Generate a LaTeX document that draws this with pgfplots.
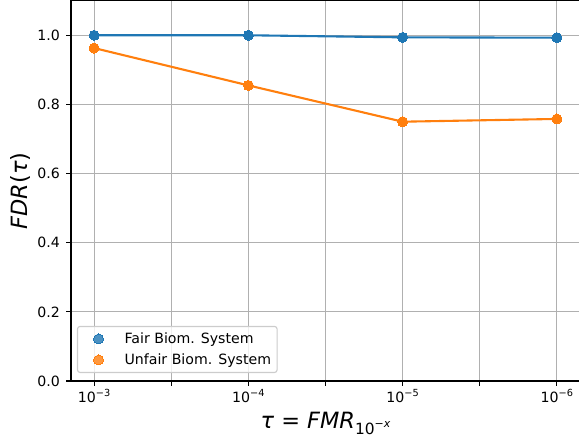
\documentclass[border=0pt]{standalone}
\usepackage{pgfplots}
\pgfplotsset{compat=1.18}
\usepackage{fontspec}
\setmainfont{DejaVu Sans}
\definecolor{tabblue}{HTML}{1F77B4}
\definecolor{taborange}{HTML}{FF7F0E}
\definecolor{gridgray}{HTML}{B0B0B0}
\definecolor{leggray}{HTML}{CCCCCC}
\newcommand{\tp}[1]{10\raisebox{0.42em}{\fontsize{9.8}{10}\selectfont −#1}}
\pgfplotstableread{
x fair unfair
0 1.000 0.963
1 1.000 0.855
2 0.994 0.750
3 0.993 0.758
}\datatab
\begin{document}
\begin{tikzpicture}
\begin{axis}[
  name=ax,
  scale only axis,
  width=509bp, height=380.3bp,
  xmin=-0.15, xmax=3.15, ymin=0, ymax=1.1,
  xtick={0,0.5,1,1.5,2,2.5,3},
  xticklabels={\tp{3},,\tp{4},,\tp{5},,\tp{6}},
  ytick={0,0.2,0.4,0.6,0.8,1.0},
  /pgf/number format/fixed, /pgf/number format/fixed zerofill, /pgf/number format/precision=1, /pgf/number format/assume math mode=true,
  tick label style={font=\fontsize{14.2}{17}\selectfont, inner sep=0pt},
  xticklabel style={anchor=base, yshift=-17bp},
  yticklabel style={anchor=east, xshift=-6bp},
  xmajorgrids, ymajorgrids,
  major grid style={draw=gridgray, line width=1.12bp},
  axis line style={line width=1.12bp, black},
  tick align=outside,
  tick pos=left,
  major tick length=4.9bp,
  every tick/.style={black, line width=1.12bp},
  xlabel={\itshape τ\upshape\ = \itshape FMR\upshape\raisebox{-0.3em}{\fontsize{15.5}{16}\selectfont 10\raisebox{0.45em}{\fontsize{11}{12}\selectfont −\itshape x}}},
  ylabel={\itshape FDR\upshape(\itshape τ\upshape)},
  label style={font=\fontsize{22.5}{27}\selectfont, inner sep=0pt},
  xlabel style={at={(axis description cs:0.5,0)}, anchor=base, yshift=-47bp},
  ylabel style={at={(axis description cs:-0.0845,0.5)}, anchor=base},
  legend cell align=left,
  legend image code/.code={\path[draw=none, fill=none] (0bp,-4bp) rectangle (30bp,4bp); \draw[#1, only marks] plot coordinates {(15bp,0bp)};},
  legend style={at={(0,0)}, anchor=south west, xshift=6bp, yshift=8bp,
    draw=leggray, line width=1.1bp, rounded corners=2.5bp, fill=white, fill opacity=0.8, text opacity=1,
    font=\fontsize{14.2}{17}\selectfont, inner xsep=6bp, inner ysep=6.5bp, row sep=9bp,
    nodes={inner sep=0pt, text height=10.5bp, text depth=1.5bp},
    /tikz/every odd column/.style={column sep=11bp},
    /tikz/every even column/.style={column sep=0bp}},
]
\addplot[tabblue, line width=2.1bp, forget plot] table[x=x, y=fair] {\datatab};
\addplot[taborange, line width=2.1bp, forget plot] table[x=x, y=unfair] {\datatab};
\addplot[only marks, mark=*, mark size=5bp, color=tabblue, mark options={line width=0pt}]
  table[x=x, y=fair] {\datatab};
\addlegendentry{Fair Biom. System}
\addplot[only marks, mark=*, mark size=5bp, color=taborange, mark options={line width=0pt}]
  table[x=x, y=unfair] {\datatab};
\addlegendentry{Unfair Biom. System}
\end{axis}
\pgfresetboundingbox
\path[use as bounding box] ([shift={(-71bp,-57bp)}]ax.south west) rectangle ([shift={(508bp,381bp)}]ax.south west);
\end{tikzpicture}
\end{document}
